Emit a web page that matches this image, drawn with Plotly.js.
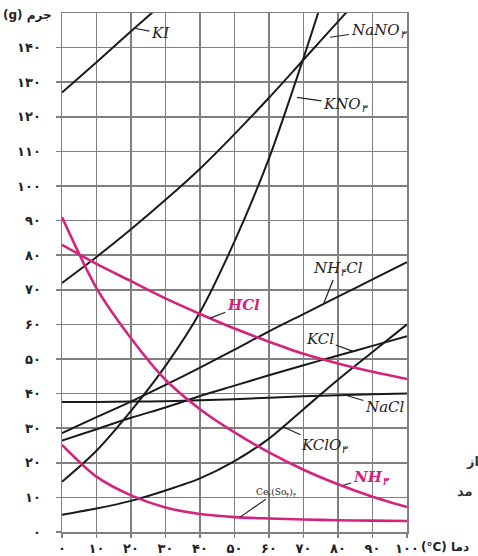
<!DOCTYPE html>
<html>
<head>
<meta charset="utf-8">
<script src="https://cdn.plot.ly/plotly-3.0.1.min.js"></script>
<style>html,body{margin:0;padding:0;background:#fff;}#chart{width:478px;height:556px;}</style>
</head>
<body>
<div id="chart"></div>
<script>
// Temperatures (°C)
const temps = [0, 10, 20, 30, 40, 50, 60, 70, 80, 90, 100];
const tempsKI = [0, 10, 20, 30];
const tempsNaNO3 = [0, 10, 20, 30, 40, 50, 60, 70, 80, 90];
const tempsKNO3 = [0, 10, 20, 30, 40, 50, 60, 70, 80];

// Solubility (g per 100 g water)
const KI = [127, 135.8, 144.7, 153.5];
const NaNO3 = [72, 79.5, 87.5, 96, 105, 115, 125.5, 136.5, 147.5, 158.5];
const KNO3 = [14.5, 23.5, 35, 48, 63.5, 84, 108, 137, 168];
const NH4Cl = [28.6, 33.2, 37.7, 42.5, 47.5, 52.7, 58, 63, 68, 73, 78];
const KCl = [26.4, 29.7, 33, 36, 39.3, 42.3, 45.3, 48.2, 51, 53.8, 56.6];
const NaCl = [37.6, 37.6, 37.7, 37.8, 38.1, 38.4, 38.8, 39.2, 39.5, 39.8, 40];
const KClO3 = [5, 6.8, 9, 12, 15.5, 20.5, 27, 35.5, 44, 52, 60];
const HCl = [83, 77.5, 72.5, 67.5, 63, 58.8, 55, 51.5, 48.7, 46.3, 44.2];
const NH3 = [91, 70.5, 56, 44, 35.5, 28.8, 23, 18, 13.8, 10.2, 7.2];
const Ce2SO43 = [25.2, 16, 10.6, 7.1, 5.2, 4.3, 3.9, 3.6, 3.4, 3.3, 3.2];

// Tick labels (Persian digits)
const xTickVals = [0, 10, 20, 30, 40, 50, 60, 70, 80, 90, 100];
const xTickText = ['۰', '۱۰', '۲۰', '۳۰', '۴۰', '۵۰', '۶۰', '۷۰', '۸۰', '۹۰', '۱۰۰'];
const yTickVals = [0, 10, 20, 30, 40, 50, 60, 70, 80, 90, 100, 110, 120, 130, 140];
const yTickText = ['۰', '۱۰', '۲۰', '۳۰', '۴۰', '۵۰', '۶۰', '۷۰', '۸۰', '۹۰', '۱۰۰', '۱۱۰', '۱۲۰', '۱۳۰', '۱۴۰'];

const BLACK = '#1a1a1a';
const PINK = '#d4237c';
const GRID = '#808080';

function line(x, y, color, width, name) {
  return { x: x, y: y, type: 'scatter', mode: 'lines', name: name,
    line: { color: color, width: width, shape: 'spline', smoothing: 0.8 }, hoverinfo: 'skip' };
}

const data = [
  line(tempsKI, KI, BLACK, 2, 'KI'),
  line(tempsNaNO3, NaNO3, BLACK, 2, 'NaNO3'),
  line(tempsKNO3, KNO3, BLACK, 2, 'KNO3'),
  line(temps, NH4Cl, BLACK, 2, 'NH4Cl'),
  line(temps, KCl, BLACK, 2, 'KCl'),
  line(temps, NaCl, BLACK, 2, 'NaCl'),
  line(temps, KClO3, BLACK, 2, 'KClO3'),
  line(temps, HCl, PINK, 2.6, 'HCl'),
  line(temps, NH3, PINK, 2.6, 'NH3'),
  line(temps, Ce2SO43, PINK, 2.6, 'Ce2(SO4)3')
];

const labelFont = { family: 'DejaVu Serif', size: 15, color: '#222', style: 'italic' };
const pinkFont = { family: 'DejaVu Serif', size: 15, color: PINK, style: 'italic', weight: 'bold' };

function lab(text, x, y, ax, ay, font) {
  return { text: text, x: x, y: y, xref: 'x', yref: 'y', ax: ax, ay: ay,
    showarrow: true, arrowhead: 0, arrowwidth: 1.2, arrowcolor: '#222', font: font,
    standoff: 0, startstandoff: 0 };
}

const annotations = [
  lab('KI', 21, 145.6, 26, 5, labelFont),
  lab('NaNO<sub>۳</sub>', 77.7, 143, 49, -7, labelFont),
  lab('KNO<sub>۳</sub>', 68.1, 125.6, 49, 7, labelFont),
  lab('HCl', 43, 61.8, 33, -13, pinkFont),
  lab('NH<sub>۴</sub>Cl', 75.8, 65.9, 14, -35, labelFont),
  lab('KCl', 84.4, 52.2, -33, -12, labelFont),
  lab('NaCl', 82, 39.6, 40, 12, labelFont),
  lab('KClO<sub>۳</sub>', 64, 30.4, 42, 19, labelFont),
  lab('NH<sub>۳</sub>', 81.5, 13.5, 28, -8, pinkFont),
  lab('Ce<sub>۲</sub>(So<sub>۴</sub>)<sub>۳</sub>', 51.6, 4.3, 36, -25,
      { family: 'DejaVu Serif', size: 9, color: '#222' }),
  { text: '(g) جرم', xref: 'paper', yref: 'paper', x: -0.178, y: 0.996, xanchor: 'left', yanchor: 'middle',
    showarrow: false, font: { family: 'DejaVu Sans', size: 12, color: '#222', weight: 'bold' } },
  { text: '(°C) دما', xref: 'paper', yref: 'paper', x: 1.036, y: -0.029, xanchor: 'left', yanchor: 'middle',
    showarrow: false, font: { family: 'DejaVu Sans', size: 12, color: '#222', weight: 'bold' } },
  { text: 'از', xref: 'paper', yref: 'paper', x: 1.165, y: 0.135, xanchor: 'left', yanchor: 'middle',
    showarrow: false, font: { family: 'DejaVu Sans', size: 13, color: '#333', weight: 'bold' } },
  { text: 'مد', xref: 'paper', yref: 'paper', x: 1.14, y: 0.078, xanchor: 'left', yanchor: 'middle',
    showarrow: false, font: { family: 'DejaVu Sans', size: 13, color: '#333', weight: 'bold' } }
];

const layout = {
  width: 478, height: 556,
  margin: { l: 62, r: 71, t: 13, b: 24 },
  paper_bgcolor: '#fff', plot_bgcolor: '#fff',
  showlegend: false,
  xaxis: {
    range: [0, 100], tickmode: 'array', tickvals: xTickVals, ticktext: xTickText,
    showgrid: true, gridcolor: GRID, gridwidth: 1.5, zeroline: false,
    showline: true, mirror: true, linecolor: GRID, linewidth: 1.5,
    ticks: 'outside', ticklen: 4, tickcolor: GRID, tickwidth: 1.5,
    tickfont: { family: 'DejaVu Sans', size: 13, color: '#222', weight: 'bold' },
    ticklabelstandoff: 0, fixedrange: true
  },
  yaxis: {
    range: [0, 150], tickmode: 'array', tickvals: yTickVals, ticktext: yTickText,
    showgrid: true, gridcolor: GRID, gridwidth: 1.5, zeroline: false,
    showline: true, mirror: true, linecolor: GRID, linewidth: 1.5,
    ticks: 'outside', ticklen: 5, tickcolor: GRID, tickwidth: 1.5,
    tickfont: { family: 'DejaVu Sans', size: 13, color: '#222', weight: 'bold' },
    ticklabelstandoff: 12, fixedrange: true
  },
  annotations: annotations
};

Plotly.newPlot('chart', data, layout, { displayModeBar: false, staticPlot: true });
</script>
</body>
</html>
